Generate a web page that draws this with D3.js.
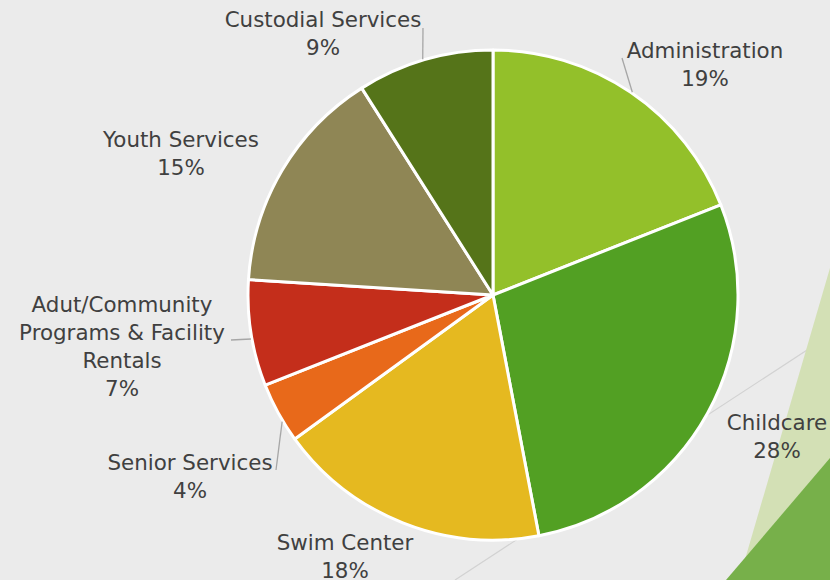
<!DOCTYPE html>
<html>
<head>
<meta charset="utf-8">
<script src="https://cdn.jsdelivr.net/npm/d3@7/dist/d3.min.js"></script>
<style>
  body { margin: 0; background: #ebebeb; }
  svg { display: block; }
  .label { font-family: "DejaVu Sans", sans-serif; font-size: 21.4px; fill: #404040; }
</style>
</head>
<body>
<svg id="chart"></svg>
<script>
//chart data
var categories = ["Administration", "Childcare", "Swim Center", "Senior Services",
                  "Adut/Community Programs & Facility Rentals", "Youth Services", "Custodial Services"];
var values = [19, 28, 18, 4, 7, 15, 9];
var colors = ["#93c02a", "#52a023", "#e5b920", "#e8691a", "#c42e1b", "#8f8655", "#557419"];

//label lines (how the name wraps) and percent text
var labelLines = [
    ["Administration"],
    ["Childcare"],
    ["Swim Center"],
    ["Senior Services"],
    ["Adut/Community", "Programs & Facility", "Rentals"],
    ["Youth Services"],
    ["Custodial Services"]
];

var screen = {width: 830, height: 580};
var center = {x: 493, y: 295};
var radius = 245;
var lineHeight = 28;

//where each label's first baseline sits (centre x)
var labelPos = [
    {x: 705, y: 58},
    {x: 777, y: 430},
    {x: 345, y: 550},
    {x: 190, y: 470},
    {x: 122, y: 312},
    {x: 181, y: 147},
    {x: 323, y: 27}
];

//leader lines: label end point, then the angle (deg) where it meets the pie
var leaders = [
    {index: 0, from: [622, 58], angle: 34.5},
    {index: 3, from: [276, 470], angle: 239},
    {index: 4, from: [231, 340], angle: 259.7},
    {index: 6, from: [423, 28], angle: 343.4}
];

var svg = d3.select("#chart")
    .attr("width", screen.width)
    .attr("height", screen.height);

//background decoration
var deco = svg.append("g");
deco.append("line")
    .attr("x1", 455).attr("y1", 580)
    .attr("x2", 830).attr("y2", 335)
    .attr("stroke", "#d2d2d2")
    .attr("stroke-width", 1.2);
deco.append("polygon")
    .attr("points", "830,268 739,580 830,580")
    .attr("fill", "#d3e0b5");
deco.append("polygon")
    .attr("points", "830,458 726,580 830,580")
    .attr("fill", "#77b04a");

var pie = d3.pie()
    .sort(null)
    .value(function(d){ return d; });

var arc = d3.arc()
    .innerRadius(0)
    .outerRadius(radius);

var slices = pie(values);

var target = svg.append("g")
    .attr("transform", "translate(" + center.x + "," + center.y + ")");

target.selectAll("path")
    .data(slices)
    .enter()
    .append("path")
    .attr("d", arc)
    .attr("fill", function(d, i){ return colors[i]; })
    .attr("stroke", "#ffffff")
    .attr("stroke-width", 3)
    .attr("stroke-linejoin", "round");

//leader lines
svg.append("g")
    .selectAll("line")
    .data(leaders)
    .enter()
    .append("line")
    .attr("x1", function(d){ return d.from[0]; })
    .attr("y1", function(d){ return d.from[1]; })
    .attr("x2", function(d){ return center.x + (radius + 1) * Math.sin(d.angle * Math.PI / 180); })
    .attr("y2", function(d){ return center.y - (radius + 1) * Math.cos(d.angle * Math.PI / 180); })
    .attr("stroke", "#a6a6a6")
    .attr("stroke-width", 1.3);

//labels
var labels = svg.append("g");
slices.forEach(function(s, i)
{
    var lines = labelLines[i].concat([values[i] + "%"]);
    var t = labels.append("text")
        .classed("label", true)
        .attr("text-anchor", "middle")
        .attr("x", labelPos[i].x)
        .attr("y", labelPos[i].y);
    lines.forEach(function(line, j)
    {
        t.append("tspan")
            .attr("x", labelPos[i].x)
            .attr("dy", j == 0 ? 0 : lineHeight)
            .text(line);
    });
});
</script>
</body>
</html>
